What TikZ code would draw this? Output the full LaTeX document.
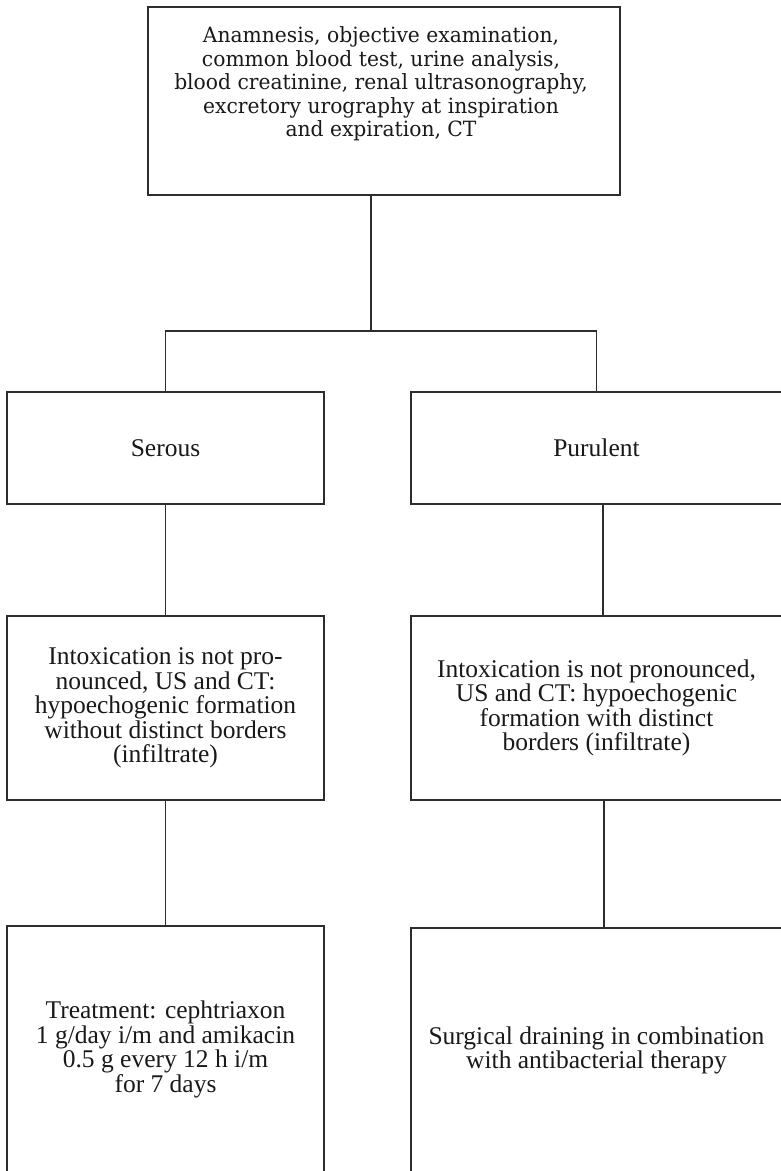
\documentclass[tikz,border=0pt]{standalone}
\usepackage{fontspec}
\setmainfont{Liberation Serif}
\newfontfamily\headserif[FakeStretch=0.965]{DejaVu Serif}
\usepackage{tikz}
\definecolor{framegray}{RGB}{45,45,45}
\definecolor{inkblack}{RGB}{25,25,25}
\tikzset{
  box/.style={rectangle, draw=framegray, line width=1.3pt, align=center,
    inner sep=0pt, text=inkblack, font=\fontsize{25.5}{24.5}\selectfont},
  headtext/.style={align=center, inner sep=0pt, text=inkblack,
    font=\headserif\fontsize{21}{23.5}\selectfont},
  line/.style={line width=1.3pt, color=framegray}
}

\begin{document}
\begin{tikzpicture}[x=1pt, y=-1pt]
  \useasboundingbox (0,0) rectangle (781,1171);

  \node [box, minimum width=472pt, minimum height=188pt] (exam) at (384,101) {};
  \node [headtext] (examtext) at (381,84) {Anamnesis, objective examination,\\common blood test, urine analysis,\\blood creatinine, renal ultrasonography,\\excretory urography at inspiration\\and expiration, CT};

  \node [box, minimum width=317pt, minimum height=112pt] (serous) at (165.5,448) {Serous};
  \node [box, minimum width=371pt, minimum height=112pt] (purulent) at (596.5,448) {Purulent};

  \node [box, minimum width=317pt, minimum height=184pt] (serousfind) at (165.5,708) {Intoxication is not pro-\\nounced, US and CT:\\hypoechogenic formation\\without distinct borders\\(infiltrate)};
  \node [box, minimum width=371pt, minimum height=184pt] (purulentfind) at (596.5,708) {Intoxication is not pronounced,\\US and CT: hypoechogenic\\formation with distinct\\borders (infiltrate)};

  \node [box, minimum width=317pt, minimum height=247pt] (serouscure) at (165.5,1049.5) {Treatment: cephtriaxon\\1 g/day i/m and amikacin\\0.5 g every 12 h i/m\\for 7 days};
  \node [box, minimum width=371pt, minimum height=245pt] (purulentcure) at (596.5,1050.5) {Surgical draining in combination\\with antibacterial therapy};

  \coordinate (split) at (371,331);
  \draw [line] (exam.south -| split) -- (split);
  \draw [line] (serous.north) |- (split) -| (purulent.north);

  \draw [line] (serous) -- (serousfind);
  \draw [line] ([xshift=6.5pt]purulent.south) -- ([xshift=6.5pt]purulent.south |- purulentfind.north);
  \draw [line] (serousfind) -- (serouscure);
  \draw [line] ([xshift=7.5pt]purulentfind.south) -- ([xshift=7.5pt]purulentfind.south |- purulentcure.north);
\end{tikzpicture}
\end{document}
